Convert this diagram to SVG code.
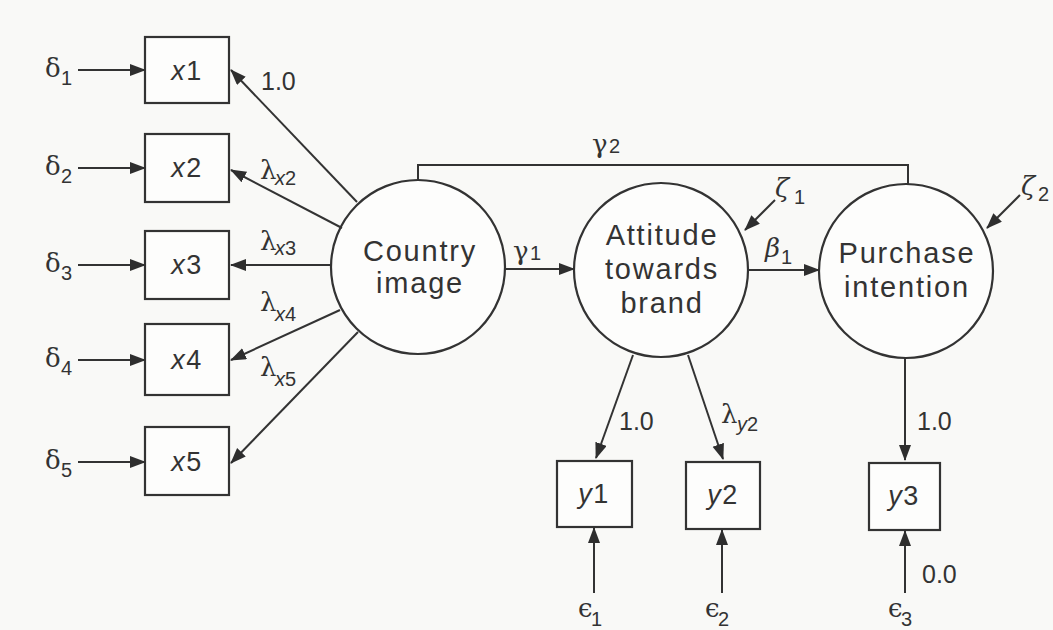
<svg xmlns="http://www.w3.org/2000/svg" width="1053" height="630" viewBox="0 0 1053 630">
<defs>
<marker id="ah" markerUnits="userSpaceOnUse" markerWidth="18" markerHeight="14" refX="15" refY="6" orient="auto">
<path d="M0,0 L16,6 L0,12 Z" fill="#2e2e2e"/>
</marker>
<style>
.bg{fill:#f9f9f7}
.node{fill:#fdfdfc;stroke:#333;stroke-width:2.2}
.lat{fill:#fdfdfc;stroke:#333;stroke-width:2.2}
.conn line,.conn polyline{stroke:#333;stroke-width:2;fill:none}
.arr{marker-end:url(#ah)}
text{font-family:"Liberation Sans","DejaVu Sans",Arial,sans-serif;fill:#333}
.bx{font-size:27px;text-anchor:middle;letter-spacing:1.5px}
.lt{font-size:29px;text-anchor:middle;letter-spacing:1.8px}
.lb{font-size:25px}
.gr{font-size:26px;font-family:"DejaVu Serif","Liberation Serif",serif}
.sub{font-size:20px}
</style>
</defs>
<rect class="bg" x="0" y="0" width="1053" height="630"/>

<g id="x1"><rect class="node" x="145" y="37" width="84" height="66"/><text class="bx" x="187" y="80"><tspan font-style="italic">x</tspan>1</text></g>
<g id="x2"><rect class="node" x="145" y="134" width="84" height="68"/><text class="bx" x="187" y="177"><tspan font-style="italic">x</tspan>2</text></g>
<g id="x3"><rect class="node" x="145" y="231" width="84" height="68"/><text class="bx" x="187" y="274"><tspan font-style="italic">x</tspan>3</text></g>
<g id="x4"><rect class="node" x="145" y="324" width="84" height="71"/><text class="bx" x="187" y="369"><tspan font-style="italic">x</tspan>4</text></g>
<g id="x5"><rect class="node" x="145" y="427" width="84" height="68"/><text class="bx" x="187" y="471"><tspan font-style="italic">x</tspan>5</text></g>

<g id="y1"><rect class="node" x="557" y="461" width="75" height="66"/><text class="bx" x="594" y="503"><tspan font-style="italic">y</tspan>1</text></g>
<g id="y2"><rect class="node" x="686" y="462" width="74" height="67"/><text class="bx" x="723" y="504"><tspan font-style="italic">y</tspan>2</text></g>
<g id="y3"><rect class="node" x="869" y="463" width="71" height="67"/><text class="bx" x="904" y="505"><tspan font-style="italic">y</tspan>3</text></g>

<g id="country"><circle class="lat" cx="418" cy="267" r="87"/><text class="lt" x="420" y="261">Country</text><text class="lt" x="420" y="293">image</text></g>
<g id="attitude"><circle class="lat" cx="661" cy="270" r="87"/><text class="lt" x="662" y="245">Attitude</text><text class="lt" x="662" y="279">towards</text><text class="lt" x="662" y="313">brand</text></g>
<g id="purchase"><circle class="lat" cx="906" cy="271" r="87"/><text class="lt" x="907" y="263">Purchase</text><text class="lt" x="907" y="297">intention</text></g>

<g id="connectors" class="conn">
<line class="arr" x1="78" y1="70" x2="145" y2="70"/>
<line class="arr" x1="78" y1="168" x2="145" y2="168"/>
<line class="arr" x1="78" y1="265" x2="145" y2="265"/>
<line class="arr" x1="78" y1="360" x2="145" y2="360"/>
<line class="arr" x1="78" y1="462" x2="145" y2="462"/>
<line class="arr" x1="357" y1="202" x2="231" y2="70"/>
<line class="arr" x1="342" y1="228" x2="231" y2="170"/>
<line class="arr" x1="332" y1="265" x2="231" y2="265"/>
<line class="arr" x1="340" y1="310" x2="231" y2="360"/>
<line class="arr" x1="358" y1="332" x2="231" y2="463"/>
<line class="arr" x1="505" y1="269" x2="574" y2="269"/>
<line class="arr" x1="748" y1="270" x2="819" y2="270"/>
<polyline points="418,180 418,165 908,165 908,184"/>
<line class="arr" x1="775" y1="200" x2="745" y2="230"/>
<line class="arr" x1="1020" y1="195" x2="987" y2="228"/>
<line class="arr" x1="633" y1="355" x2="596" y2="458"/>
<line class="arr" x1="688" y1="355" x2="723" y2="459"/>
<line class="arr" x1="905" y1="358" x2="905" y2="460"/>
<line class="arr" x1="594" y1="593" x2="594" y2="528"/>
<line class="arr" x1="722" y1="593" x2="722" y2="530"/>
<line class="arr" x1="905" y1="593" x2="905" y2="531"/>
</g>

<g id="labels">
<text class="gr" x="45" y="77">δ</text><text class="sub" x="61" y="85">1</text>
<text class="gr" x="45" y="175">δ</text><text class="sub" x="61" y="183">2</text>
<text class="gr" x="45" y="272">δ</text><text class="sub" x="61" y="280">3</text>
<text class="gr" x="45" y="367">δ</text><text class="sub" x="61" y="375">4</text>
<text class="gr" x="45" y="469">δ</text><text class="sub" x="61" y="477">5</text>
<text class="lb" x="261" y="90">1.0</text>
<text class="gr" x="260" y="179">λ</text><text class="sub" x="275" y="185"><tspan font-style="italic">x</tspan>2</text>
<text class="gr" x="260" y="250">λ</text><text class="sub" x="275" y="255"><tspan font-style="italic">x</tspan>3</text>
<text class="gr" x="260" y="311">λ</text><text class="sub" x="275" y="321"><tspan font-style="italic">x</tspan>4</text>
<text class="gr" x="260" y="376">λ</text><text class="sub" x="275" y="386"><tspan font-style="italic">x</tspan>5</text>
<text class="gr" x="592" y="153">γ</text><text class="sub" x="609" y="153">2</text>
<text class="gr" x="513" y="260">γ</text><text class="sub" x="530" y="260">1</text>
<text class="gr" x="765" y="257" font-style="italic">β</text><text class="sub" x="781" y="264">1</text>
<text class="gr" x="775" y="197" font-style="italic">ζ</text><text class="sub" x="794" y="204">1</text>
<text class="gr" x="1021" y="195" font-style="italic">ζ</text><text class="sub" x="1038" y="201">2</text>
<text class="lb" x="619" y="430">1.0</text>
<text class="gr" x="721" y="423">λ</text><text class="sub" x="737" y="431"><tspan font-style="italic">y</tspan>2</text>
<text class="lb" x="917" y="430">1.0</text>
<text class="lb" x="922" y="583">0.0</text>
<text class="gr" x="578" y="617">ϵ</text><text class="sub" x="591" y="626">1</text>
<text class="gr" x="705" y="617">ϵ</text><text class="sub" x="718" y="626">2</text>
<text class="gr" x="888" y="617">ϵ</text><text class="sub" x="901" y="626">3</text>
</g>
</svg>
